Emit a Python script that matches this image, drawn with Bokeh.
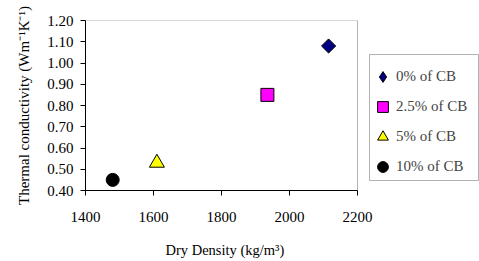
import math
from bokeh.plotting import figure
from bokeh.models import (Legend, LegendItem, FixedTicker, NumeralTickFormatter,
                          Range1d, BoxAnnotation, Title)
from bokeh.embed import file_html
from bokeh.resources import INLINE

series_labels = ["0% of CB", "2.5% of CB", "5% of CB", "10% of CB"]
dry_density = [2115, 1935, 1610, 1480]
conductivity = [1.08, 0.85, 0.53, 0.45]
markers = ["square", "square", "triangle", "circle"]
legend_markers = ["diamond", "square", "triangle", "circle"]
angles = [math.pi / 4, 0, 0, 0]
colors = ["#000080", "#FF00FF", "#FFFF00", "#000000"]
sizes = [10, 13, 15, 13]
x_ticks = [1400, 1600, 1800, 2000, 2200]
y_ticks = [0.40, 0.50, 0.60, 0.70, 0.80, 0.90, 1.00, 1.10, 1.20]
x_min, x_max = 1400, 2200
y_min, y_max = 0.40, 1.20

FONT = "Liberation Serif"

# layout in pixels
left_px, top_px, frame_w, frame_h, box_w = 85, 20, 394, 170, 272
x_per_px = (x_max - x_min) / box_w
y_per_px = (y_max - y_min) / frame_h
x_end = x_min + frame_w * x_per_px

p = figure(width=479, height=261, output_backend="svg", toolbar_location=None,
           x_range=Range1d(x_min, x_end), y_range=Range1d(y_min, y_max),
           min_border_left=left_px, min_border_top=top_px, min_border_right=0,
           min_border_bottom=71, frame_width=frame_w, frame_height=frame_h)
p.xgrid.visible = False
p.ygrid.visible = False
p.outline_line_color = None
p.background_fill_color = "white"
p.border_fill_color = "white"

# plot box
p.add_layout(BoxAnnotation(left=x_min, right=x_max, bottom=y_min, top=y_max,
                           fill_alpha=0, line_color="black", line_width=1))
# legend box (pixel positions converted to the frame's scale)
lg_l, lg_r, lg_t, lg_b = 369, 478, 54, 180
p.add_layout(BoxAnnotation(left=x_min + (lg_l - left_px) * x_per_px,
                           right=x_min + (lg_r - left_px) * x_per_px,
                           top=y_max - (lg_t - top_px) * y_per_px,
                           bottom=y_max - (lg_b - top_px) * y_per_px,
                           fill_color="white", fill_alpha=1,
                           line_color="black", line_width=1))

items = []
for i in range(len(series_labels)):
    # legend-shape glyph (hidden under the plotted marker where they differ)
    lr = p.scatter([dry_density[i]], [conductivity[i]], marker=legend_markers[i],
                   size=min(sizes[i], 9) if angles[i] else sizes[i],
                   fill_color=colors[i], line_color="black", line_width=1)
    if angles[i]:
        p.scatter([dry_density[i]], [conductivity[i]], marker=markers[i], angle=angles[i],
                  size=sizes[i], fill_color=colors[i], line_color="black", line_width=1)
    items.append(LegendItem(label=series_labels[i], renderers=[lr]))

for ax in (p.xaxis[0], p.yaxis[0]):
    ax.axis_line_color = "black"
    ax.major_tick_line_color = "black"
    ax.major_tick_out = 5
    ax.major_tick_in = 0
    ax.minor_tick_line_color = None
    ax.major_label_text_font = FONT
    ax.major_label_text_font_size = "15px"
    ax.major_label_text_color = "black"
    ax.axis_label_text_font = FONT
    ax.axis_label_text_font_size = "15px"
    ax.axis_label_text_font_style = "normal"
    ax.axis_label_text_color = "black"

p.xaxis.ticker = FixedTicker(ticks=x_ticks)
p.xaxis.bounds = (x_min, x_max)
p.yaxis.ticker = FixedTicker(ticks=y_ticks)
p.yaxis.formatter = NumeralTickFormatter(format="0.00")
p.yaxis.axis_label = "Thermal conductivity (Wm⁻¹K⁻¹)"
p.xaxis.major_label_standoff = 16
p.yaxis.major_label_standoff = 7
p.yaxis.axis_label_standoff = 12

xlabel = Title(text="Dry Density (kg/m³)", align="left", offset=80, standoff=30,
               text_font=FONT, text_font_size="14.5px", text_font_style="normal",
               text_color="black")
p.add_layout(xlabel, "below")

legend = Legend(items=items, location=(284, 10))
legend.label_text_font = FONT
legend.label_text_font_size = "15px"
legend.border_line_color = None
legend.background_fill_alpha = 0
legend.padding = 5
legend.spacing = 3
legend.label_height = 27
legend.glyph_height = 27
legend.glyph_width = 27
legend.label_standoff = 0
legend.margin = 0
p.add_layout(legend, "center")

open("out.html", "w").write(file_html(p, INLINE))
